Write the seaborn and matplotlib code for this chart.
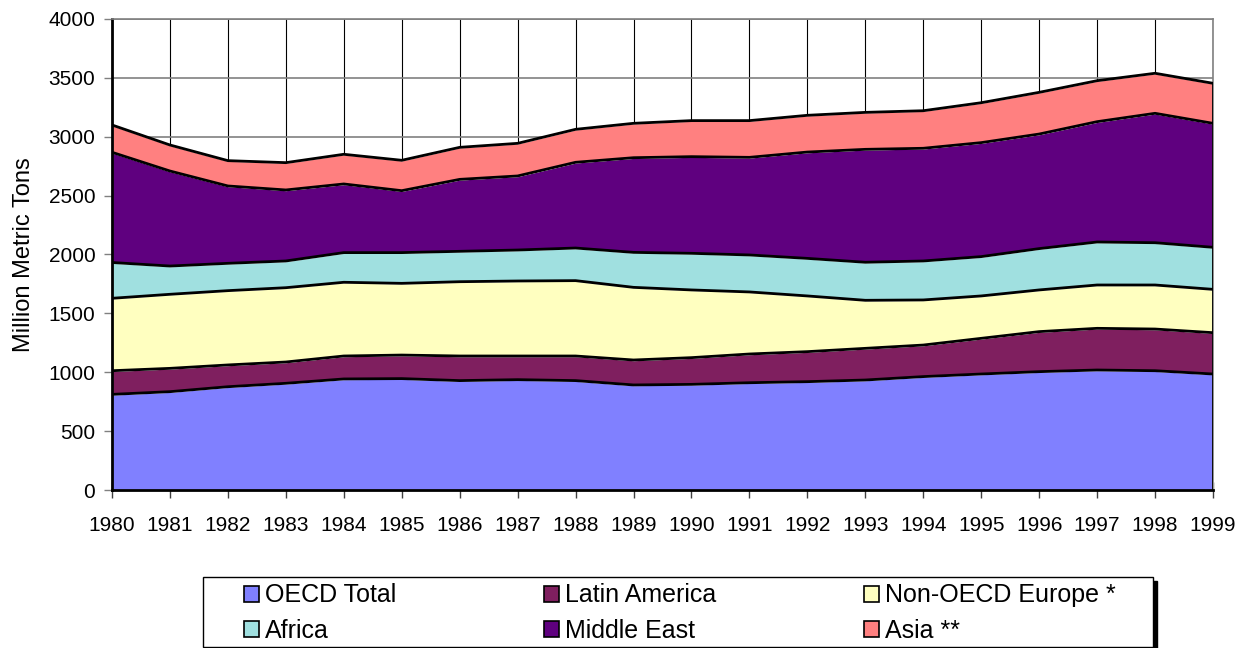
import matplotlib
matplotlib.use("Agg")
import matplotlib.pyplot as plt
from matplotlib.patches import Patch, Rectangle
import pandas as pd
import seaborn as sns

# valeurs (millions de tonnes)
years = list(range(1980, 2000))
oecd_total = [812, 835, 877, 906, 943, 946, 929, 937, 929, 892,
              897, 911, 920, 934, 963, 985, 1005, 1019, 1013, 985]
latin_america = [201, 198, 185, 181, 195, 200, 209, 201, 209, 212,
                 227, 244, 255, 269, 268, 303, 340, 354, 354, 351]
non_oecd_europe = [615, 629, 631, 631, 626, 609, 631, 637, 640, 617,
                   575, 527, 473, 408, 383, 360, 354, 368, 374, 368]
africa = [304, 240, 232, 227, 252, 261, 258, 263, 277, 297,
          311, 314, 319, 323, 331, 334, 351, 365, 359, 357]
middle_east = [936, 807, 657, 603, 583, 526, 611, 629, 728, 804,
               821, 829, 903, 959, 957, 968, 973, 1022, 1099, 1053]
asia = [232, 221, 215, 232, 252, 258, 272, 277, 280, 292,
        306, 312, 312, 314, 319, 339, 354, 348, 340, 340]

series_names = ["OECD Total", "Latin America", "Non-OECD Europe *",
                "Africa", "Middle East", "Asia **"]
colors = ["#8080FF", "#7F1F5F", "#FFFFC0", "#A0E0E0", "#5F007F", "#FF8080"]

df = pd.DataFrame({
    "Year": years,
    "OECD Total": oecd_total,
    "Latin America": latin_america,
    "Non-OECD Europe *": non_oecd_europe,
    "Africa": africa,
    "Middle East": middle_east,
    "Asia **": asia,
})

# hauts cumulés de chaque couche (pour les contours noirs)
cum = df[series_names].cumsum(axis=1)
cum["Year"] = years
tops = cum.melt(id_vars="Year", var_name="Region", value_name="Top")

sns.set_theme(style="white")
plt.rcParams["font.family"] = ["Liberation Sans", "DejaVu Sans"]
plt.rcParams.update({"text.color": "black", "axes.labelcolor": "black",
                     "xtick.color": "black", "ytick.color": "black"})

fig = plt.figure(figsize=(12.47, 6.48), dpi=100)
ax = fig.add_axes([112 / 1247, 1 - 490 / 648, (1213 - 112) / 1247, (490 - 19) / 648])

ax.stackplot(df["Year"], [df[n] for n in series_names], colors=colors, zorder=2)
sns.lineplot(data=tops, x="Year", y="Top", hue="Region", hue_order=series_names,
             palette=["black"] * 6, legend=False, ax=ax, lw=2, zorder=3)
ax.vlines(years[-1], 0, cum[series_names[-1]].iloc[-1], color="black", lw=2, zorder=3)

ax.set_xlim(1980, 1999)
ax.set_ylim(0, 4000)
ax.set_xticks(years)
ax.set_yticks(range(0, 4001, 500))

ax.set_axisbelow(True)
ax.yaxis.grid(True, color="#808080", lw=1.2)
ax.xaxis.grid(True, color="black", lw=0.8)

for side in ["left", "bottom"]:
    ax.spines[side].set_color("black")
    ax.spines[side].set_linewidth(2)
for side in ["top", "right"]:
    ax.spines[side].set_color("#808080")
    ax.spines[side].set_linewidth(1.2)

ax.tick_params(axis="x", direction="inout", length=12, width=1, color="#404040",
               labelsize=15, labelcolor="black", pad=13, bottom=True)
ax.tick_params(axis="y", direction="out", length=6, width=1, color="#808080",
               labelsize=15, labelcolor="black", pad=6, left=True)
ax.set_xlabel("")
ax.set_ylabel("Million Metric Tons", fontsize=17, color="black", labelpad=10)

# cadre de la légende avec ombre noire
x0, y0, w, h = 203 / 1247, 1 / 648, 950 / 1247, 70 / 648
fig.patches.append(Rectangle((x0 + 4 / 1247, y0 - 4 / 648), w, h, transform=fig.transFigure,
                             facecolor="black", edgecolor="black", zorder=1))
fig.patches.append(Rectangle((x0, y0), w, h, transform=fig.transFigure,
                             facecolor="white", edgecolor="black", lw=1, zorder=2))

# ordre colonne par colonne pour ncol=3
order = [0, 3, 1, 4, 2, 5]
handles = [Patch(facecolor=colors[i], edgecolor="black", lw=1.2) for i in order]
labels = [series_names[i] for i in order]
fig.legend(handles, labels, loc="center", bbox_to_anchor=(680 / 1247, 1 - 613 / 648),
           ncol=3, frameon=False, fontsize=18, handlelength=0.6, handleheight=0.6,
           handletextpad=0.25, columnspacing=5.9, labelspacing=0.45, borderpad=0)

fig.savefig("out.png", dpi=100)
